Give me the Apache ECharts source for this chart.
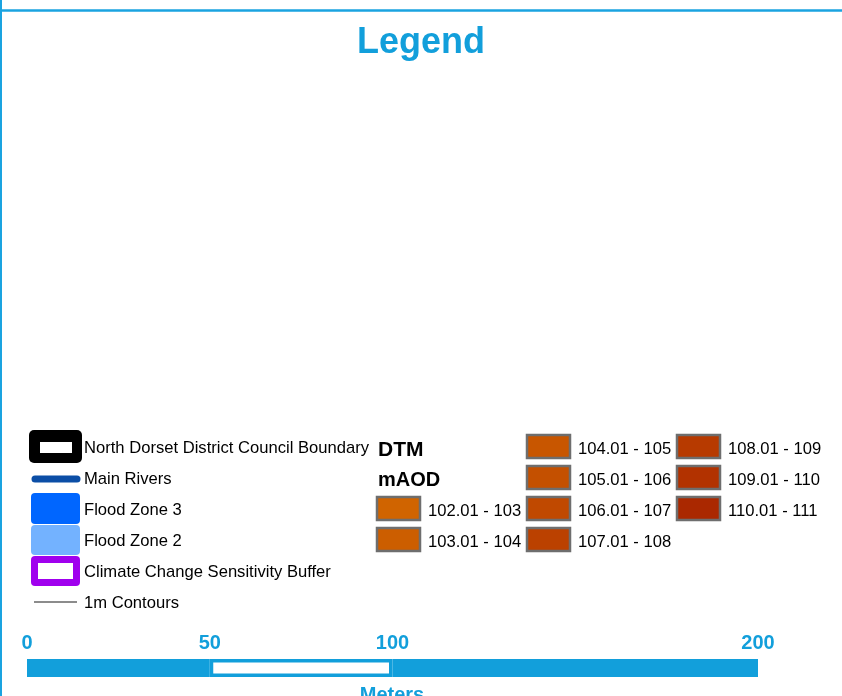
<!DOCTYPE html>
<html><head><meta charset="utf-8">
<script src="https://cdn.jsdelivr.net/npm/echarts@6/dist/echarts.min.js"></script>
<style>html,body{margin:0;padding:0;background:#fff}#c{width:842px;height:696px}</style>
</head><body><div id="c"></div>
<script>
// ---- data ----
var layerNames = ['North Dorset District Council Boundary','Main Rivers','Flood Zone 3','Flood Zone 2','Climate Change Sensitivity Buffer','1m Contours'];
var dtmRanges = ['102.01 - 103','103.01 - 104','104.01 - 105','105.01 - 106','106.01 - 107','107.01 - 108','108.01 - 109','109.01 - 110','110.01 - 111'];
var dtmColors = ['#d06400','#cc5e00','#c85600','#c45000','#c04900','#bb4100','#b73a00','#b23200','#aa2800'];
var scaleTicks = [0, 50, 100, 200];
var scaleSegments = [50, 50, 100];
var scaleUnit = 'Meters';

var BLUE = '#129fdb';
var FONT = '"Liberation Sans", Arial, sans-serif';
var chart = echarts.init(document.getElementById('c'));

var g = [];
// frame lines
g.push({type:'line', shape:{x1:0,y1:10.5,x2:842,y2:10.5}, style:{stroke:'#1aa3e0', lineWidth:2.5}});
g.push({type:'line', shape:{x1:1,y1:0,x2:1,y2:696}, style:{stroke:'#1aa3e0', lineWidth:2}});

// left legend
var rowY = [447, 478, 509, 540, 571, 602];
// boundary
g.push({type:'rect', shape:{x:29,y:430,width:53,height:33,r:5}, style:{fill:'#000'}});
g.push({type:'rect', shape:{x:40,y:442,width:32,height:11}, style:{fill:'#fff'}});
// rivers
g.push({type:'line', shape:{x1:35,y1:479,x2:77,y2:479}, style:{stroke:'#0b4ea6', lineWidth:7, lineCap:'round'}});
// flood zone 3
g.push({type:'rect', shape:{x:31,y:493,width:49,height:31,r:4}, style:{fill:'#0066ff'}});
// flood zone 2
g.push({type:'rect', shape:{x:31,y:525,width:49,height:30,r:4}, style:{fill:'#73b2ff'}});
// climate buffer
g.push({type:'rect', shape:{x:31,y:556,width:49,height:30,r:4}, style:{fill:'#a000ee'}});
g.push({type:'rect', shape:{x:38,y:563,width:35,height:16}, style:{fill:'#fff'}});
// contours
g.push({type:'line', shape:{x1:34,y1:602,x2:77,y2:602}, style:{stroke:'#8c8c8c', lineWidth:2}});

layerNames.forEach(function(n, i){
  g.push({type:'text', x:84, y:rowY[i] + 1.5, style:{text:n, fill:'#000', font:'16.6px ' + FONT, textVerticalAlign:'middle', textAlign:'left'}});
});

// DTM header
g.push({type:'text', x:378, y:450, style:{text:'DTM', fill:'#000', font:'bold 21px ' + FONT, textVerticalAlign:'middle'}});
g.push({type:'text', x:378, y:480, style:{text:'mAOD', fill:'#000', font:'bold 20px ' + FONT, textVerticalAlign:'middle'}});

// DTM swatches: column layout
var slots = [[0,2],[0,3],[1,0],[1,1],[1,2],[1,3],[2,0],[2,1],[2,2]];
var colX = [377, 527, 677];
var labX = [428, 578, 728];
dtmRanges.forEach(function(r, i){
  var c = slots[i][0], rw = slots[i][1];
  var cy = rowY[rw] - 0.5;
  g.push({type:'rect', shape:{x:colX[c], y:cy-11.5, width:43, height:23}, style:{fill:dtmColors[i], stroke:'#6e6e6e', lineWidth:2.5}});
  g.push({type:'text', x:labX[c], y:cy+2.5, style:{text:r, fill:'#000', font:'16.6px ' + FONT, textVerticalAlign:'middle'}});
});

// Meters label
g.push({type:'text', x:392, y:695, style:{text:scaleUnit, fill:BLUE, font:'bold 20px ' + FONT, textAlign:'center', textVerticalAlign:'middle'}});

var segColors = [BLUE, '#ffffff', BLUE];
var series = scaleSegments.map(function(v, i){
  return {
    type:'bar', stack:'s', data:[v], barWidth:18, silent:true,
    itemStyle:{color:segColors[i], borderColor:BLUE, borderWidth: i===1 ? 3.5 : 0},
    animation:false
  };
});

chart.setOption({
  animation:false,
  title:{text:'Legend', left:'center', top:20, textStyle:{color:BLUE, fontSize:36, fontWeight:'bold', fontFamily:FONT}},
  grid:{left:27, right:84, top:659, height:18},
  xAxis:{type:'value', min:0, max:200, interval:50, position:'top',
    axisLine:{show:false}, axisTick:{show:false}, splitLine:{show:false},
    axisLabel:{margin:6, color:BLUE, fontSize:20, fontWeight:'bold', fontFamily:FONT,
      formatter:function(v){ return scaleTicks.indexOf(v) >= 0 ? String(v) : ''; }}},
  yAxis:{type:'category', data:['scale'], show:false},
  series:series,
  graphic:g
});
</script></body></html>
